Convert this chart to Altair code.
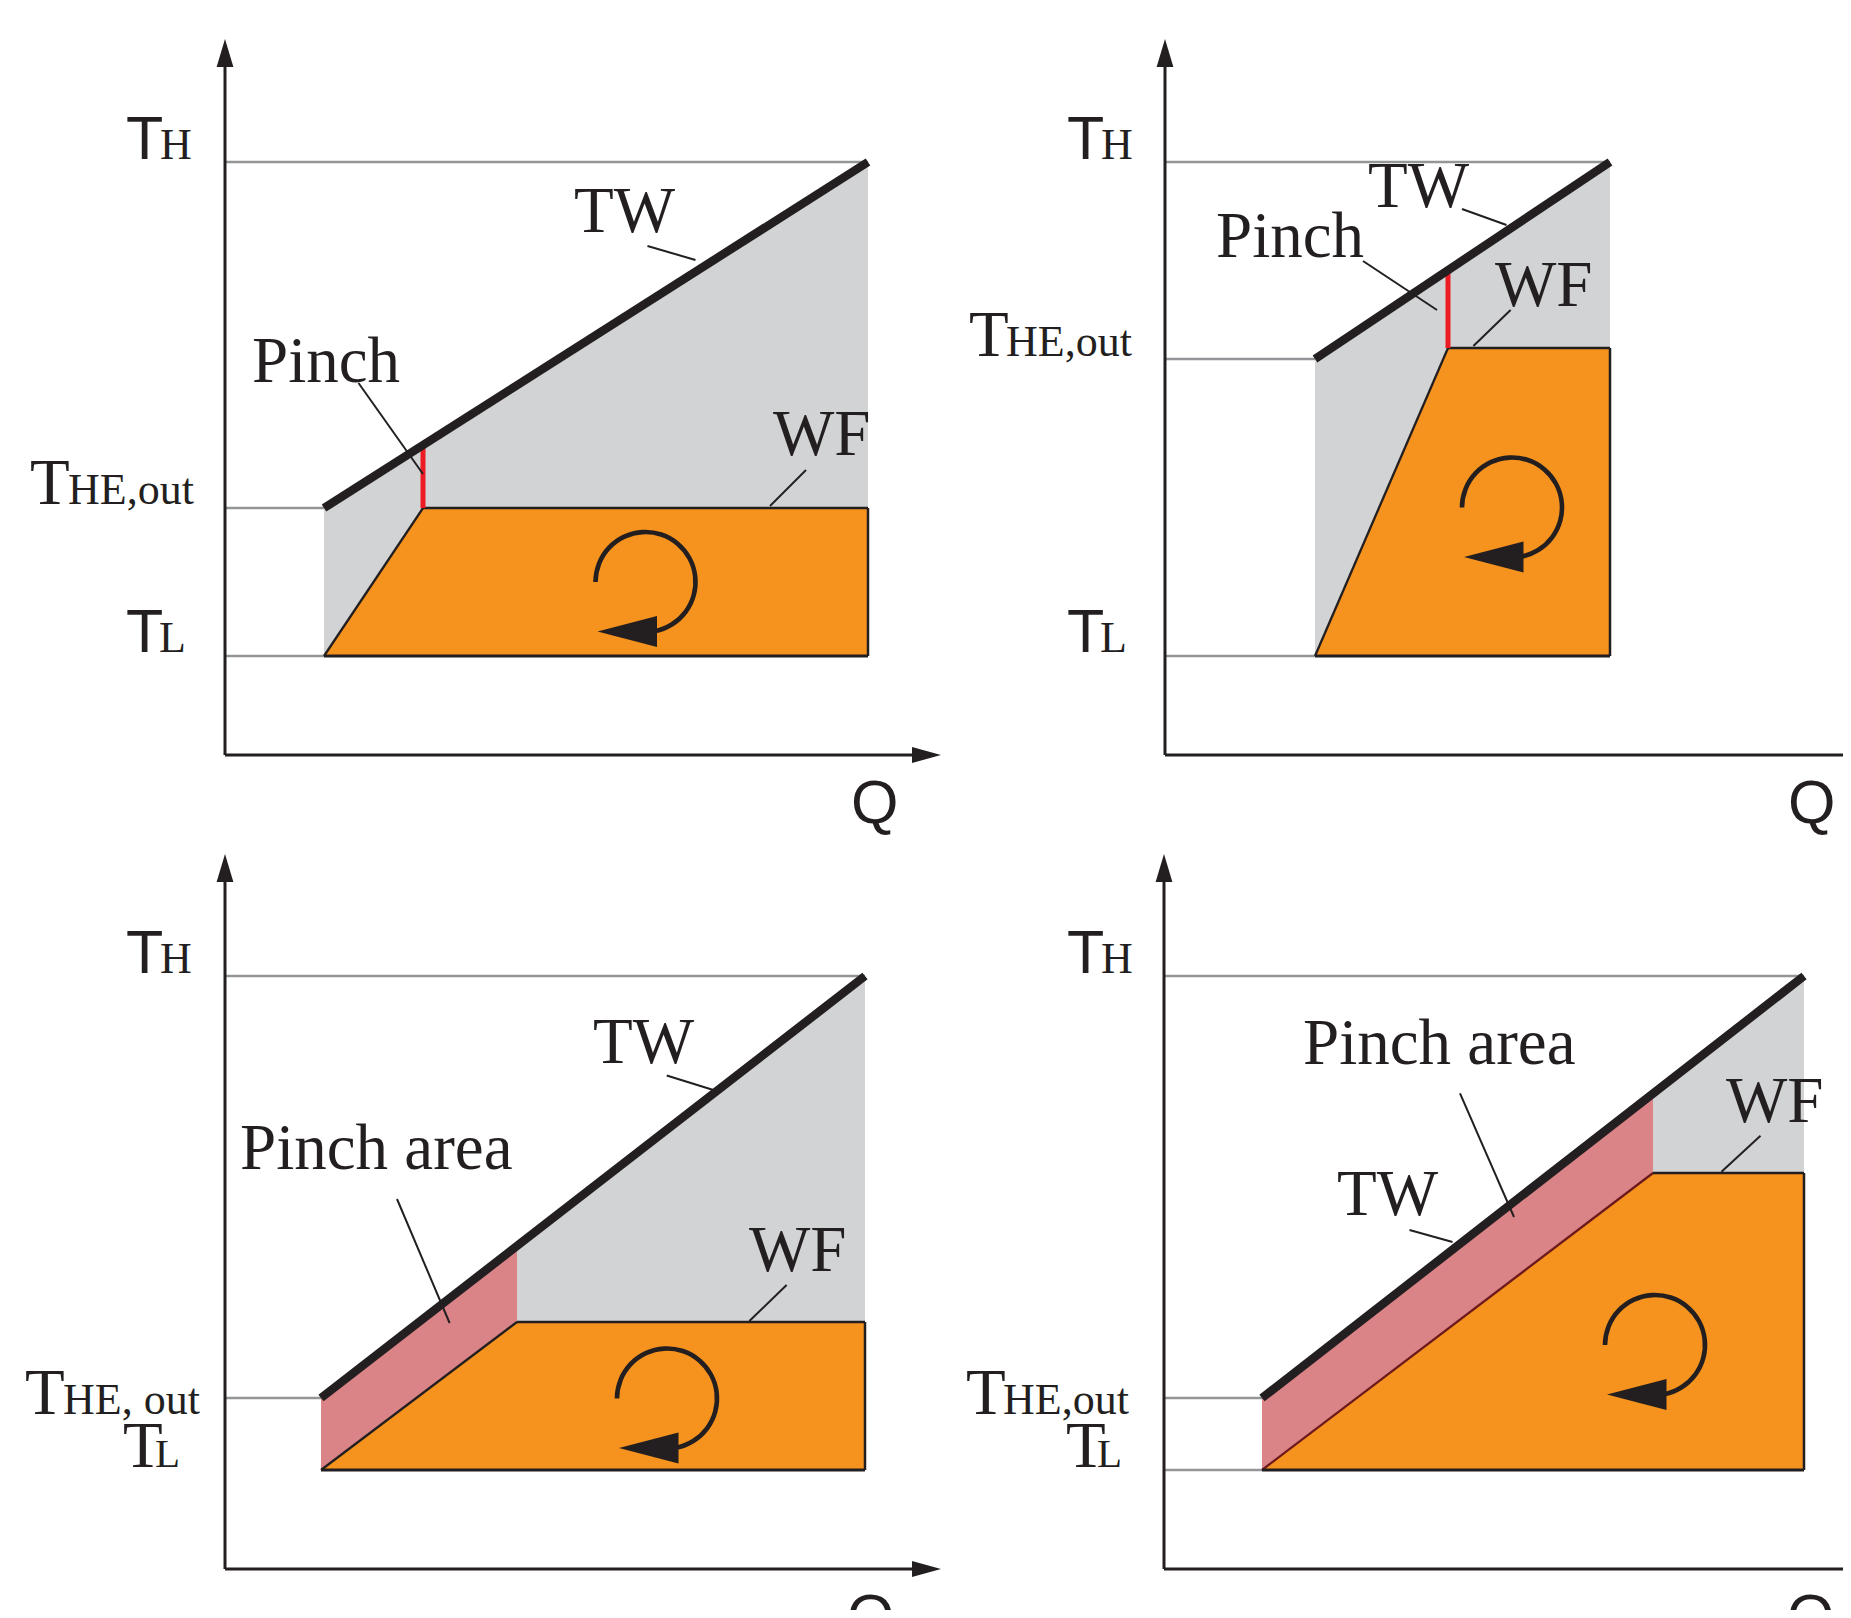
import math
import altair as alt
import pandas as pd

# ---------------- values (pixel space of the figure) ----------------
panel      = ["a", "b", "c", "d"]
axis_x     = [225, 1165, 225, 1164]
axis_top   = [39, 39, 854, 854]
axis_base  = [755, 755, 1569, 1569]
axis_len   = [716, 716, 716, 716]
T_H        = [162, 162, 976, 976]
T_HE       = [508, 359, 1398, 1398]
T_L        = [656, 656, 1470, 1470]
T_WF       = [508, 348, 1322, 1173]
Q_start    = [324, 1315, 321, 1262]
Q_pinch    = [423, 1448, 517, 1653]
Q_end      = [868, 1610, 865, 1804]
pinch_kind = ["point", "point", "area", "area"]
TL_guide   = [True, True, False, True]

cycle_cx       = [645.5, 1512, 667, 1655]
cycle_cy       = [582, 507.5, 1398.5, 1345]
cycle_from_deg = [270, 270, 270, 270]
cycle_to_deg   = [530, 530, 530, 530]

# curve labels and their leader lines
lab_text = ["TW", "Pinch", "WF", "TW", "Pinch", "WF",
            "TW", "Pinch area", "WF", "TW", "Pinch area", "WF"]
lab_x = [574, 252, 773, 1368, 1216, 1495, 593, 240, 749, 1337, 1303, 1726]
lab_y = [232, 382, 455, 207, 257, 306, 1063, 1169, 1271, 1215, 1064, 1122]
lead_x1 = [647.5, 358.5, 806, 1462, 1363, 1510.6, 666.7, 397, 786.6, 1409.5, 1460, 1760.5]
lead_y1 = [246, 383, 470, 209, 261, 310, 1075.5, 1199, 1285, 1230, 1093.4, 1135.7]
lead_x2 = [695.5, 423, 770, 1506.5, 1437, 1473.4, 713.4, 449.6, 749.4, 1452.5, 1514, 1721.5]
lead_y2 = [260, 474, 506, 225, 310, 346, 1090, 1323, 1321, 1242, 1217, 1171.7]

# axis labels
tH_x      = [126, 1067, 126, 1067]
tH_base   = [159, 159, 973, 973]
tHE_x     = [30, 969, 25, 966]
tHE_base  = [503.5, 355.5, 1414, 1414]
tHE_sub   = ["HE,out", "HE,out", "HE, out", "HE,out"]
tHE_sub_x = [68, 1006, 63, 1003]
tL_x      = [126, 1067, 123, 1066]
tL_base   = [652, 652, 1467, 1467]
tL_serif  = [False, False, True, True]
tL_sub_x  = [159, 1100, 155, 1097]
q_x       = [851, 1788, 847, 1787]
q_base    = [823, 823, 1637, 1637]

# ---------------- styles ----------------
DARK = "#231F20"
GUIDE = "#939598"
GRAY = "#D1D3D4"
ORANGE = "#F6921E"
PINK = "#DB8488"
RED = "#ED1C24"
SLOPE_BR = "#6D1A1C"
SERIF = "Liberation Serif"
SANS = "Liberation Sans"

xs = alt.Scale(domain=[8, 1843], nice=False, zero=False)
ys = alt.Scale(domain=[8, 1610], nice=False, zero=False, reverse=True)


def tw(i, q):
    return T_HE[i] + (q - Q_start[i]) * (T_H[i] - T_HE[i]) / (Q_end[i] - Q_start[i])


# ---------------- tables ----------------
fill_rows = []
for i, p in enumerate(panel):
    q0, qp, q1 = Q_start[i], Q_pinch[i], Q_end[i]
    wf = {q0: T_L[i], qp: T_WF[i], q1: T_WF[i]}
    if pinch_kind[i] == "point":
        for q in (q0, qp, q1):
            fill_rows.append(dict(g=p + "-gray", x=q, y=tw(i, q), y2=wf[q], c=GRAY))
    else:
        for q in (q0, qp):
            fill_rows.append(dict(g=p + "-pink", x=q, y=tw(i, q), y2=wf[q], c=PINK))
        for q in (qp, q1):
            fill_rows.append(dict(g=p + "-gray", x=q, y=tw(i, q), y2=T_WF[i], c=GRAY))
    for q in (q0, qp, q1):
        fill_rows.append(dict(g=p + "-wf", x=q, y=wf[q], y2=T_L[i], c=ORANGE))
fills = pd.DataFrame(fill_rows)

rule_rows = []


def rule(x, y, x2, y2, c, w):
    rule_rows.append(dict(x=x, y=y, x2=x2, y2=y2, c=c, w=w))


for i, p in enumerate(panel):
    ax = axis_x[i]
    q0, qp, q1 = Q_start[i], Q_pinch[i], Q_end[i]
    rule(ax, T_H[i], q1, T_H[i], GUIDE, 2.5)
    rule(ax, T_HE[i], q0, T_HE[i], GUIDE, 2.5)
    if TL_guide[i]:
        rule(ax, T_L[i], q0, T_L[i], GUIDE, 2.5)
    rule(ax, axis_base[i], ax, axis_top[i] + 12, DARK, 3)
    rule(ax, axis_base[i], ax + axis_len[i] - 12, axis_base[i], DARK, 3)
    rule(q0, T_L[i], qp, T_WF[i], SLOPE_BR if i == 3 else DARK, 2.3)
    rule(qp, T_WF[i], q1, T_WF[i], DARK, 2.5)
    rule(q1, T_WF[i], q1, T_L[i], DARK, 2.5)
    rule(q0, T_L[i], q1, T_L[i], DARK, 2.8)
    if pinch_kind[i] == "point":
        rule(qp, tw(i, qp), qp, T_WF[i], RED, 5)
    rule(q0, T_HE[i], q1, T_H[i], DARK, 8.5)
for k in range(len(lab_text)):
    rule(lead_x1[k], lead_y1[k], lead_x2[k], lead_y2[k], DARK, 2)
rules = pd.DataFrame(rule_rows)

cycles = pd.DataFrame(dict(
    cx=cycle_cx, cy=cycle_cy,
    t0=[math.radians(a) for a in cycle_from_deg],
    t1=[math.radians(a) for a in cycle_to_deg],
))
cycle_heads = pd.DataFrame(dict(x=[c - 18.25 for c in cycle_cx], y=[c + 49.5 for c in cycle_cy]))
up_heads = pd.DataFrame(dict(x=axis_x, y=[t + 14 for t in axis_top]))
right_heads = pd.DataFrame(dict(x=[a + l - 14.5 for a, l in zip(axis_x, axis_len)], y=axis_base))

serif_rows, sans_rows = [], []
for k in range(len(lab_text)):
    serif_rows.append(dict(t=lab_text[k], x=lab_x[k], y=lab_y[k], s=65))
for i in range(4):
    sans_rows.append(dict(t="T", x=tH_x[i], y=tH_base[i], s=61))
    serif_rows.append(dict(t="H", x=tH_x[i] + 34, y=tH_base[i], s=44))
    serif_rows.append(dict(t="T", x=tHE_x[i], y=tHE_base[i], s=65))
    serif_rows.append(dict(t=tHE_sub[i], x=tHE_sub_x[i], y=tHE_base[i], s=44))
    if tL_serif[i]:
        serif_rows.append(dict(t="T", x=tL_x[i], y=tL_base[i], s=65))
        serif_rows.append(dict(t="L", x=tL_sub_x[i], y=tL_base[i], s=41))
    else:
        sans_rows.append(dict(t="T", x=tL_x[i], y=tL_base[i], s=61))
        serif_rows.append(dict(t="L", x=tL_sub_x[i], y=tL_base[i], s=44))
    sans_rows.append(dict(t="Q", x=q_x[i], y=q_base[i], s=61))
serif_txt = pd.DataFrame(serif_rows)
sans_txt = pd.DataFrame(sans_rows)

X = lambda f: alt.X(f, scale=xs, axis=None)
Y = lambda f: alt.Y(f, scale=ys, axis=None)

area_layer = alt.Chart(fills).mark_area(opacity=1, interpolate="linear").encode(
    x=X("x:Q"), y=alt.Y("y:Q", scale=ys, axis=None, stack=None), y2="y2:Q",
    color=alt.Color("c:N", scale=None), detail="g:N",
)
rule_layer = alt.Chart(rules).mark_rule(strokeCap="butt").encode(
    x=X("x:Q"), y=Y("y:Q"), x2="x2:Q", y2="y2:Q",
    color=alt.Color("c:N", scale=None), size=alt.Size("w:Q", scale=None),
)
arc_layer = alt.Chart(cycles).mark_arc(radius=52.3, radius2=47.7, color=DARK).encode(
    x=X("cx:Q"), y=Y("cy:Q"),
    theta=alt.Theta("t0:Q", scale=None, stack=None), theta2="t1:Q",
)
cyc_head_layer = alt.Chart(cycle_heads).mark_point(
    shape="M-1,0L1,-0.52L1,0.52Z", size=3540, filled=True, opacity=1, color=DARK, strokeWidth=0
).encode(x=X("x:Q"), y=Y("y:Q"))
up_layer = alt.Chart(up_heads).mark_point(
    shape="M0,-1L0.6,1L-0.6,1Z", size=784, filled=True, opacity=1, color=DARK, strokeWidth=0
).encode(x=X("x:Q"), y=Y("y:Q"))
right_layer = alt.Chart(right_heads).mark_point(
    shape="M1,0L-1,-0.55L-1,0.55Z", size=841, filled=True, opacity=1, color=DARK, strokeWidth=0
).encode(x=X("x:Q"), y=Y("y:Q"))
serif_layer = alt.Chart(serif_txt).mark_text(
    font=SERIF, align="left", baseline="alphabetic", color=DARK
).encode(x=X("x:Q"), y=Y("y:Q"), text="t:N", size=alt.Size("s:Q", scale=None))
sans_layer = alt.Chart(sans_txt).mark_text(
    font=SANS, align="left", baseline="alphabetic", color=DARK
).encode(x=X("x:Q"), y=Y("y:Q"), text="t:N", size=alt.Size("s:Q", scale=None))

chart = alt.layer(
    area_layer, rule_layer, arc_layer, cyc_head_layer, up_layer, right_layer,
    serif_layer, sans_layer,
).properties(
    width=1835, height=1602, autosize="none", padding=0, background="white"
).configure_view(stroke=None)

chart.save("out.html", embed_options={"renderer": "svg", "actions": False})
